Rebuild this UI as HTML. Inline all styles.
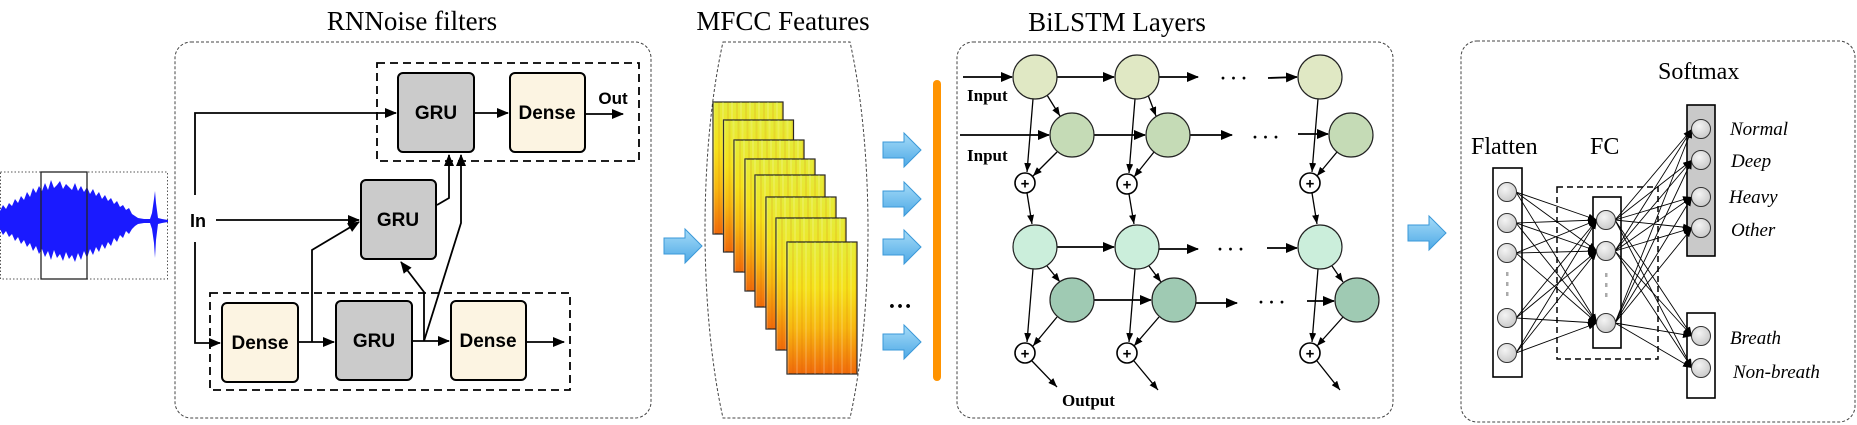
<!DOCTYPE html>
<html><head><meta charset="utf-8"><style>
html,body{margin:0;padding:0;background:#fff;}
svg{display:block;}
.serif{font-family:"Liberation Serif",serif;}
.sans{font-family:"Liberation Sans",sans-serif;}
</style></head><body>
<svg width="1857" height="425" viewBox="0 0 1857 425" xmlns="http://www.w3.org/2000/svg">
<defs>
<marker id="ah" markerUnits="userSpaceOnUse" markerWidth="12" markerHeight="10" refX="11" refY="5" orient="auto"><path d="M0,0 L12,5 L0,10 z" fill="#000"/></marker>
<marker id="as" markerUnits="userSpaceOnUse" markerWidth="9" markerHeight="7" refX="9" refY="3.5" orient="auto"><path d="M0,0 L9,3.5 L0,7 z" fill="#000"/></marker>
<linearGradient id="blue" x1="0" y1="0" x2="0" y2="1"><stop offset="0" stop-color="#a6dcf8"/><stop offset="1" stop-color="#4ea9e6"/></linearGradient>
<linearGradient id="spec" x1="0" y1="0" x2="0" y2="1"><stop offset="0" stop-color="#e4ec3a"/><stop offset="0.35" stop-color="#f5e21a"/><stop offset="0.65" stop-color="#f7b810"/><stop offset="1" stop-color="#f06a0a"/></linearGradient>
<pattern id="stripes" width="9" height="10" patternUnits="userSpaceOnUse"><rect x="0" y="0" width="2" height="10" fill="#ffffff" opacity="0.15"/><rect x="5" y="0" width="2" height="10" fill="#d05000" opacity="0.12"/></pattern>
<radialGradient id="node" cx="0.4" cy="0.35" r="0.7"><stop offset="0" stop-color="#f4f4f4"/><stop offset="1" stop-color="#c8c8c8"/></radialGradient>
<g id="card"><rect width="70" height="132" fill="url(#spec)" stroke="#222" stroke-width="1.2"/><rect width="70" height="132" fill="url(#stripes)"/></g>
<g id="barrow"><path d="M0,-8 L21,-8 L21,-17 L38,0 L21,17 L21,8 L0,8 z" fill="url(#blue)" stroke="#3a98d8" stroke-width="1"/></g>
</defs>

<!-- waveform -->
<rect x="0.5" y="172" width="167" height="107" fill="none" stroke="#555" stroke-width="1" stroke-dasharray="1.5,2"/>
<path fill="#1a1aff" d="M0,211 L3,205 6,209 9,203 12,206 15,199 18,203 21,196 24,200 27,192 30,197 33,188 36,193 39,186 42,191 45,183 48,190 51,180 54,188 57,185 60,181 63,189 66,184 69,187 72,190 75,183 78,191 81,186 84,192 87,187 90,194 93,189 96,196 99,192 102,199 105,195 108,201 111,198 114,204 117,201 120,207 123,205 126,210 129,208 132,214 135,216 138,218 144,219 150,219 152,213 154,199 155,191 156,203 158,218 162,219 168,220 L168,222 162,223 158,224 156,240 155,258 154,243 152,229 150,223 144,223 138,224 135,226 132,229 129,234 126,231 123,238 120,235 117,242 114,238 111,246 108,242 105,249 102,244 99,252 96,247 93,255 90,249 87,258 84,251 81,260 78,253 75,262 72,255 69,259 66,252 63,261 60,254 57,258 54,250 51,260 48,251 45,257 42,249 39,254 36,246 33,251 30,243 27,247 24,240 21,244 18,237 15,241 12,234 9,237 6,231 3,235 0,229 z"/>
<rect x="41" y="172" width="46" height="107" fill="none" stroke="#222" stroke-width="1.3"/>

<!-- RNNoise -->
<text x="412" y="30" text-anchor="middle" class="serif" font-size="27">RNNoise filters</text>
<rect x="175" y="42" width="476" height="376" rx="16" fill="none" stroke="#444" stroke-width="1" stroke-dasharray="3,2"/>
<rect x="377" y="63" width="262" height="98" fill="none" stroke="#000" stroke-width="1.8" stroke-dasharray="8,5"/>
<rect x="210" y="293" width="360" height="97" fill="none" stroke="#000" stroke-width="1.8" stroke-dasharray="8,5"/>
<g stroke="#000" stroke-width="2">
<rect x="398" y="73" width="76" height="79" rx="5" fill="#cbcbcb"/>
<rect x="510" y="73" width="75" height="79" rx="5" fill="#fcf4e2"/>
<rect x="361" y="180" width="75" height="79" rx="5" fill="#cbcbcb"/>
<rect x="222" y="303" width="76" height="79" rx="5" fill="#fcf4e2"/>
<rect x="336" y="301" width="76" height="79" rx="5" fill="#cbcbcb"/>
<rect x="451" y="301" width="75" height="79" rx="5" fill="#fcf4e2"/>
</g>
<g class="sans" font-weight="bold" font-size="19" text-anchor="middle">
<text x="436" y="119">GRU</text>
<text x="547" y="119">Dense</text>
<text x="398" y="226">GRU</text>
<text x="260" y="349">Dense</text>
<text x="374" y="347">GRU</text>
<text x="488" y="347">Dense</text>
<text x="613" y="104" font-size="17">Out</text>
<text x="198" y="227" font-size="18">In</text>
</g>
<g stroke="#000" stroke-width="1.8" fill="none">
<path d="M474,113 L508,113" marker-end="url(#ah)"/>
<path d="M585,114 L623,114" marker-end="url(#ah)"/>
<path d="M216,220 L359,220" marker-end="url(#ah)"/>
<path d="M195,195 L195,113 L396,113" marker-end="url(#ah)"/>
<path d="M195,242 L195,343 L220,343" marker-end="url(#ah)"/>
<path d="M298,342 L334,342" marker-end="url(#ah)"/>
<path d="M412,341 L449,341" marker-end="url(#ah)"/>
<path d="M526,342 L564,342" marker-end="url(#ah)"/>
<path d="M312,342 L312,250 L359,222" marker-end="url(#ah)"/>
<path d="M424,341 L424,292 L401,262" marker-end="url(#ah)"/>
<path d="M424,341 L461,223 L461,155" marker-end="url(#ah)"/>
<path d="M437,205 L449,198 L449,155" marker-end="url(#ah)"/>
</g>

<!-- MFCC -->
<use href="#barrow" x="664" y="246"/>
<text x="783" y="30" text-anchor="middle" class="serif" font-size="27">MFCC Features</text>
<path d="M723,42 L850,42 C874,150 874,310 850,418 L723,418 C699,310 699,150 723,42 Z" fill="none" stroke="#444" stroke-width="1" stroke-dasharray="3,2"/>
<use href="#card" x="713" y="102"/>
<use href="#card" x="723.5" y="120"/>
<use href="#card" x="734" y="140"/>
<use href="#card" x="745" y="159"/>
<use href="#card" x="755" y="175"/>
<use href="#card" x="766" y="197"/>
<use href="#card" x="776" y="218"/>
<use href="#card" x="787" y="242"/>
<use href="#barrow" x="883" y="150"/>
<use href="#barrow" x="883" y="199"/>
<use href="#barrow" x="883" y="247"/>
<use href="#barrow" x="883" y="342"/>
<text x="900" y="308" text-anchor="middle" class="serif" font-size="24" font-weight="bold">…</text>
<rect x="933" y="80" width="8" height="301" rx="4" fill="#ff9300"/>

<!-- BiLSTM -->
<text x="1117" y="31" text-anchor="middle" class="serif" font-size="27">BiLSTM Layers</text>
<rect x="957" y="42" width="436" height="376" rx="16" fill="none" stroke="#444" stroke-width="1" stroke-dasharray="3,2"/>
<g stroke="#000" stroke-width="1.8" fill="none">
<path d="M963,77 L1012,77" marker-end="url(#ah)"/>
<path d="M960,135 L1049,135" marker-end="url(#ah)"/>
<path d="M1057,77 L1114,77" marker-end="url(#ah)"/>
<path d="M1159,77 L1198,77" marker-end="url(#ah)"/>
<path d="M1268,78 L1297,77" marker-end="url(#ah)"/>
<path d="M1094,135 L1145,135" marker-end="url(#ah)"/>
<path d="M1190,135 L1232,135" marker-end="url(#ah)"/>
<path d="M1298,134 L1328,134" marker-end="url(#ah)"/>
<path d="M1057,247 L1114,247" marker-end="url(#ah)"/>
<path d="M1159,249 L1198,249" marker-end="url(#ah)"/>
<path d="M1267,248 L1297,248" marker-end="url(#ah)"/>
<path d="M1094,300 L1151,300" marker-end="url(#ah)"/>
<path d="M1196,303 L1237,303" marker-end="url(#ah)"/>
<path d="M1307,301 L1334,301" marker-end="url(#ah)"/>
</g>
<g font-size="18" font-weight="bold" class="serif">
<text x="1220" y="84">· · ·</text>
<text x="1252" y="143">· · ·</text>
<text x="1217" y="255">· · ·</text>
<text x="1258" y="308">· · ·</text>
</g>
<!-- column units -->
<g stroke="#000" stroke-width="1.3">
<g>
<path d="M1033,99 L1027,172" marker-end="url(#as)"/>
<path d="M1047,95 L1060,116" marker-end="url(#as)"/>
<path d="M1057,152 L1033,176" marker-end="url(#as)"/>
<path d="M1027,193 L1032,224" marker-end="url(#as)"/>
<path d="M1033,269 L1027,342" marker-end="url(#as)"/>
<path d="M1047,266 L1060,282" marker-end="url(#as)"/>
<path d="M1057,317 L1033,346" marker-end="url(#as)"/>
<path d="M1032,361 L1057,387" marker-end="url(#as)"/>
</g>
<g>
<path d="M1135,99 L1129,173" marker-end="url(#as)"/>
<path d="M1148,95 L1156,116" marker-end="url(#as)"/>
<path d="M1154,152 L1134,177" marker-end="url(#as)"/>
<path d="M1129,194 L1134,224" marker-end="url(#as)"/>
<path d="M1135,269 L1129,342" marker-end="url(#as)"/>
<path d="M1149,266 L1161,282" marker-end="url(#as)"/>
<path d="M1159,317 L1134,346" marker-end="url(#as)"/>
<path d="M1134,361 L1158,390" marker-end="url(#as)"/>
</g>
<g>
<path d="M1318,99 L1312,172" marker-end="url(#as)"/>
<path d="M1337,152 L1317,176" marker-end="url(#as)"/>
<path d="M1312,193 L1317,224" marker-end="url(#as)"/>
<path d="M1318,269 L1312,342" marker-end="url(#as)"/>
<path d="M1332,266 L1343,282" marker-end="url(#as)"/>
<path d="M1343,317 L1317,346" marker-end="url(#as)"/>
<path d="M1317,361 L1340,390" marker-end="url(#as)"/>
</g>
</g>
<g stroke="#222" stroke-width="1.2">
<circle cx="1035" cy="77" r="22" fill="#e0e8c4"/>
<circle cx="1137" cy="77" r="22" fill="#e0e8c4"/>
<circle cx="1320" cy="77" r="22" fill="#e0e8c4"/>
<circle cx="1072" cy="135" r="22" fill="#c5dbb6"/>
<circle cx="1168" cy="135" r="22" fill="#c5dbb6"/>
<circle cx="1351" cy="135" r="22" fill="#c5dbb6"/>
<circle cx="1035" cy="247" r="22" fill="#cbeedb"/>
<circle cx="1137" cy="247" r="22" fill="#cbeedb"/>
<circle cx="1320" cy="247" r="22" fill="#cbeedb"/>
<circle cx="1072" cy="300" r="22" fill="#9fcab3"/>
<circle cx="1174" cy="300" r="22" fill="#9fcab3"/>
<circle cx="1357" cy="300" r="22" fill="#9fcab3"/>
</g>
<g stroke="#000" stroke-width="1.6" fill="#fff">
<circle cx="1025" cy="183" r="10"/><circle cx="1127" cy="184" r="10"/><circle cx="1310" cy="183" r="10"/>
<circle cx="1025" cy="353" r="10"/><circle cx="1127" cy="353" r="10"/><circle cx="1310" cy="353" r="10"/>
</g>
<g class="sans" font-weight="bold" font-size="15" text-anchor="middle">
<text x="1025" y="188.5">+</text><text x="1127" y="189.5">+</text><text x="1310" y="188.5">+</text>
<text x="1025" y="358.5">+</text><text x="1127" y="358.5">+</text><text x="1310" y="358.5">+</text>
</g>
<g class="serif" font-weight="bold" font-size="17">
<text x="967" y="101">Input</text>
<text x="967" y="161">Input</text>
<text x="1062" y="406">Output</text>
</g>

<!-- classifier -->
<use href="#barrow" x="1408" y="233"/>
<rect x="1461" y="41" width="394" height="381" rx="16" fill="none" stroke="#444" stroke-width="1" stroke-dasharray="3,2"/>
<g class="serif" font-size="24">
<text x="1658" y="79">Softmax</text>
<text x="1471" y="154">Flatten</text>
<text x="1590" y="154">FC</text>
</g>
<rect x="1557" y="187" width="101" height="172" fill="none" stroke="#000" stroke-width="1.5" stroke-dasharray="6,4"/>
<rect x="1493" y="168" width="29" height="209" fill="#fff" stroke="#000" stroke-width="1.6"/>
<rect x="1593" y="197" width="28" height="151" fill="#fff" stroke="#000" stroke-width="1.6"/>
<rect x="1687" y="105" width="28" height="151" fill="#c9c9c9" stroke="#000" stroke-width="1.6"/>
<rect x="1687" y="313" width="28" height="85" fill="#fff" stroke="#000" stroke-width="1.6"/>
<g stroke="#000" stroke-width="0.9">
<path d="M1516,192 L1597,220" marker-end="url(#as)"/><path d="M1516,192 L1597,251" marker-end="url(#as)"/><path d="M1516,192 L1597,323" marker-end="url(#as)"/>
<path d="M1516,223 L1597,220" marker-end="url(#as)"/><path d="M1516,223 L1597,251" marker-end="url(#as)"/><path d="M1516,223 L1597,323" marker-end="url(#as)"/>
<path d="M1516,253 L1597,220" marker-end="url(#as)"/><path d="M1516,253 L1597,251" marker-end="url(#as)"/><path d="M1516,253 L1597,323" marker-end="url(#as)"/>
<path d="M1516,318 L1597,220" marker-end="url(#as)"/><path d="M1516,318 L1597,251" marker-end="url(#as)"/><path d="M1516,318 L1597,323" marker-end="url(#as)"/>
<path d="M1516,353 L1597,220" marker-end="url(#as)"/><path d="M1516,353 L1597,251" marker-end="url(#as)"/><path d="M1516,353 L1597,323" marker-end="url(#as)"/>
<path d="M1615,220 L1692,129" marker-end="url(#as)"/><path d="M1615,220 L1692,160" marker-end="url(#as)"/><path d="M1615,220 L1692,197" marker-end="url(#as)"/><path d="M1615,220 L1692,228" marker-end="url(#as)"/><path d="M1615,220 L1692,336" marker-end="url(#as)"/><path d="M1615,220 L1692,368" marker-end="url(#as)"/>
<path d="M1615,251 L1692,129" marker-end="url(#as)"/><path d="M1615,251 L1692,160" marker-end="url(#as)"/><path d="M1615,251 L1692,197" marker-end="url(#as)"/><path d="M1615,251 L1692,228" marker-end="url(#as)"/><path d="M1615,251 L1692,336" marker-end="url(#as)"/><path d="M1615,251 L1692,368" marker-end="url(#as)"/>
<path d="M1615,323 L1692,129" marker-end="url(#as)"/><path d="M1615,323 L1692,160" marker-end="url(#as)"/><path d="M1615,323 L1692,197" marker-end="url(#as)"/><path d="M1615,323 L1692,228" marker-end="url(#as)"/><path d="M1615,323 L1692,336" marker-end="url(#as)"/><path d="M1615,323 L1692,368" marker-end="url(#as)"/>
</g>
<g stroke="#333" stroke-width="1" fill="url(#node)">
<circle cx="1507" cy="192" r="9.5"/><circle cx="1507" cy="223" r="9.5"/><circle cx="1507" cy="253" r="9.5"/><circle cx="1507" cy="318" r="9.5"/><circle cx="1507" cy="353" r="9.5"/>
<circle cx="1606" cy="220" r="9.5"/><circle cx="1606" cy="251" r="9.5"/><circle cx="1606" cy="323" r="9.5"/>
<circle cx="1701" cy="129" r="9.5"/><circle cx="1701" cy="160" r="9.5"/><circle cx="1701" cy="197" r="9.5"/><circle cx="1701" cy="228" r="9.5"/>
<circle cx="1701" cy="336" r="9.5"/><circle cx="1701" cy="368" r="9.5"/>
</g>
<g fill="#aaa">
<rect x="1506" y="272" width="2.5" height="4"/><rect x="1506" y="282" width="2.5" height="4"/><rect x="1506" y="292" width="2.5" height="4"/>
<rect x="1605" y="273" width="2.5" height="4"/><rect x="1605" y="283" width="2.5" height="4"/><rect x="1605" y="293" width="2.5" height="4"/>
</g>
<g class="serif" font-style="italic" font-size="19">
<text x="1730" y="135">Normal</text>
<text x="1731" y="167">Deep</text>
<text x="1729" y="203">Heavy</text>
<text x="1731" y="236">Other</text>
<text x="1730" y="344">Breath</text>
<text x="1733" y="378">Non-breath</text>
</g>
</svg>
</body></html>
